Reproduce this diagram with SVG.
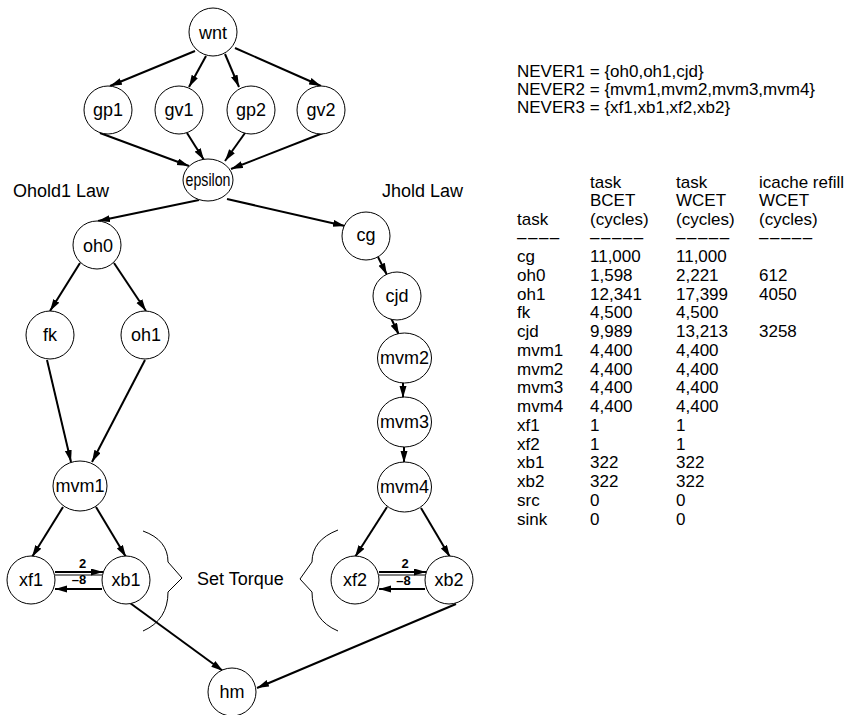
<svg xmlns="http://www.w3.org/2000/svg" width="849" height="715" viewBox="0 0 849 715">
<style>
.n{fill:#fff;stroke:#000;stroke-width:1}
.l{font-family:"Liberation Sans",Arial,sans-serif;font-size:18px;text-anchor:middle;fill:#000}
.t{font-family:"Liberation Sans",Arial,sans-serif;font-size:18px;fill:#000}
.r{font-family:"Liberation Sans",Arial,sans-serif;font-size:17px;fill:#000}
.d{font-family:"Liberation Sans",Arial,sans-serif;font-size:17px;letter-spacing:1.5px;fill:#000}
.e{stroke:#000;stroke-width:2;fill:none;marker-end:url(#ah)}
.w{font-family:"Liberation Sans",Arial,sans-serif;font-size:13px;font-weight:bold;text-anchor:middle;fill:#000}
.b{stroke:#000;stroke-width:1;fill:none}
</style>
<defs>
<marker id="ah" markerUnits="userSpaceOnUse" markerWidth="13" markerHeight="8" refX="12" refY="3.5" orient="auto">
<path d="M0,0 L12,3.5 L0,7 z" fill="#000"/>
</marker>
</defs>
<rect width="849" height="715" fill="#fff"/>
<g id="connectors">
<line class="e" x1="195" y1="51" x2="110" y2="86"/>
<line class="e" x1="206" y1="56" x2="189" y2="87"/>
<line class="e" x1="225" y1="54" x2="239" y2="87"/>
<line class="e" x1="235" y1="48" x2="321" y2="86"/>
<line class="e" x1="100" y1="133" x2="189" y2="166"/>
<line class="e" x1="187" y1="133" x2="204" y2="160"/>
<line class="e" x1="245" y1="133" x2="225" y2="161"/>
<line class="e" x1="323" y1="133" x2="231" y2="169"/>
<line class="e" x1="199" y1="200" x2="98" y2="221"/>
<line class="e" x1="227" y1="199" x2="345" y2="226"/>
<line class="e" x1="80" y1="263" x2="50" y2="311"/>
<line class="e" x1="114" y1="263" x2="146" y2="311"/>
<line class="e" x1="47" y1="360" x2="71" y2="462"/>
<line class="e" x1="145" y1="360" x2="92" y2="462"/>
<line class="e" x1="378" y1="257" x2="387" y2="275"/>
<line class="e" x1="391" y1="318" x2="399" y2="335"/>
<line class="e" x1="403" y1="383" x2="403" y2="398"/>
<line class="e" x1="404" y1="447" x2="404" y2="463"/>
<line class="e" x1="63" y1="507" x2="32" y2="557"/>
<line class="e" x1="96" y1="507" x2="126" y2="557"/>
<line class="e" x1="387" y1="507" x2="355" y2="557"/>
<line class="e" x1="421" y1="508" x2="450" y2="557"/>
<line class="e" x1="55" y1="572" x2="103" y2="572"/>
<line class="b" x1="55" y1="575" x2="102" y2="575"/>
<line class="e" x1="102" y1="589" x2="55" y2="589"/>
<line class="e" x1="379" y1="572" x2="426" y2="572"/>
<line class="b" x1="379" y1="575" x2="425" y2="575"/>
<line class="e" x1="425" y1="589" x2="379" y2="589"/>
<line class="e" x1="130" y1="603" x2="223" y2="671"/>
<line class="e" x1="456" y1="604" x2="257" y2="688"/>
<text class="w" x="82.5" y="568">2</text>
<text class="w" x="79" y="584">–8</text>
<text class="w" x="405" y="568">2</text>
<text class="w" x="403.5" y="585">–8</text>
</g>
<g id="wnt"><circle class="n" cx="213" cy="32" r="24"/><text class="l" x="213" y="39">wnt</text></g>
<g id="gp1"><circle class="n" cx="108" cy="110" r="24"/><text class="l" x="108" y="116">gp1</text></g>
<g id="gv1"><circle class="n" cx="179" cy="110" r="24"/><text class="l" x="179" y="116">gv1</text></g>
<g id="gp2"><circle class="n" cx="251" cy="110" r="24"/><text class="l" x="251" y="116">gp2</text></g>
<g id="gv2"><circle class="n" cx="321" cy="110" r="24"/><text class="l" x="321" y="116">gv2</text></g>
<g id="epsilon"><ellipse class="n" cx="208" cy="180" rx="25" ry="21"/><text class="l" x="208" y="186" textLength="45" lengthAdjust="spacingAndGlyphs">epsilon</text></g>
<g id="oh0"><circle class="n" cx="97" cy="245" r="24"/><text class="l" x="98" y="252">oh0</text></g>
<g id="fk"><circle class="n" cx="50" cy="335" r="24"/><text class="l" x="50" y="341">fk</text></g>
<g id="oh1"><circle class="n" cx="145" cy="335" r="24"/><text class="l" x="146" y="341">oh1</text></g>
<g id="mvm1"><ellipse class="n" cx="80" cy="486" rx="27" ry="25"/><text class="l" x="80" y="492">mvm1</text></g>
<g id="xf1"><circle class="n" cx="31" cy="580" r="24"/><text class="l" x="31" y="586">xf1</text></g>
<g id="xb1"><circle class="n" cx="126" cy="580" r="24"/><text class="l" x="126" y="586">xb1</text></g>
<g id="cg"><circle class="n" cx="366" cy="236" r="24"/><text class="l" x="366" y="241">cg</text></g>
<g id="cjd"><circle class="n" cx="397" cy="296" r="24"/><text class="l" x="397" y="302">cjd</text></g>
<g id="mvm2"><ellipse class="n" cx="404.5" cy="358" rx="27" ry="25"/><text class="l" x="404.5" y="364">mvm2</text></g>
<g id="mvm3"><ellipse class="n" cx="404.5" cy="422" rx="27" ry="25"/><text class="l" x="404.5" y="428">mvm3</text></g>
<g id="mvm4"><ellipse class="n" cx="404.5" cy="487" rx="27" ry="25"/><text class="l" x="404.5" y="493">mvm4</text></g>
<g id="xf2"><circle class="n" cx="355" cy="580" r="24"/><text class="l" x="355" y="586">xf2</text></g>
<g id="xb2"><circle class="n" cx="449" cy="580" r="24"/><text class="l" x="449" y="586">xb2</text></g>
<g id="hm"><circle class="n" cx="232" cy="692" r="24"/><text class="l" x="232" y="698">hm</text></g>
<g id="annotations">
<text class="t" x="13" y="197">Ohold1 Law</text>
<text class="t" x="382" y="197">Jhold Law</text>
<path class="b" d="M143,531 Q168,540 168,562 L182,578 L168,592 Q168,620 143,631"/>
<path class="b" d="M338,530 Q312,540 312,562 L300,579 L312,592 Q312,620 338,631"/>
<text class="t" x="197" y="585">Set Torque</text>
</g>
<g id="table">
<text class="r" x="517" y="77">NEVER1 = {oh0,oh1,cjd}</text>
<text class="r" x="517" y="95">NEVER2 = {mvm1,mvm2,mvm3,mvm4}</text>
<text class="r" x="517" y="113">NEVER3 = {xf1,xb1,xf2,xb2}</text>
<text class="r" x="590" y="188">task</text><text class="r" x="676" y="188">task</text><text class="r" x="759" y="188">icache refill</text>
<text class="r" x="590" y="206">BCET</text><text class="r" x="676" y="206">WCET</text><text class="r" x="759" y="206">WCET</text>
<text class="r" x="517" y="225">task</text><text class="r" x="590" y="225">(cycles)</text><text class="r" x="676" y="225">(cycles)</text><text class="r" x="759" y="225">(cycles)</text>
<text class="d" x="517" y="243">––––</text><text class="d" x="590" y="243">–––––</text><text class="d" x="676" y="243">–––––</text><text class="d" x="759" y="243">–––––</text>
<text class="r" x="517" y="262">cg</text><text class="r" x="590" y="262">11,000</text><text class="r" x="676" y="262">11,000</text>
<text class="r" x="517" y="281">oh0</text><text class="r" x="590" y="281">1,598</text><text class="r" x="676" y="281">2,221</text><text class="r" x="759" y="281">612</text>
<text class="r" x="517" y="300">oh1</text><text class="r" x="590" y="300">12,341</text><text class="r" x="676" y="300">17,399</text><text class="r" x="759" y="300">4050</text>
<text class="r" x="517" y="318">fk</text><text class="r" x="590" y="318">4,500</text><text class="r" x="676" y="318">4,500</text>
<text class="r" x="517" y="337">cjd</text><text class="r" x="590" y="337">9,989</text><text class="r" x="676" y="337">13,213</text><text class="r" x="759" y="337">3258</text>
<text class="r" x="517" y="356">mvm1</text><text class="r" x="590" y="356">4,400</text><text class="r" x="676" y="356">4,400</text>
<text class="r" x="517" y="375">mvm2</text><text class="r" x="590" y="375">4,400</text><text class="r" x="676" y="375">4,400</text>
<text class="r" x="517" y="393">mvm3</text><text class="r" x="590" y="393">4,400</text><text class="r" x="676" y="393">4,400</text>
<text class="r" x="517" y="412">mvm4</text><text class="r" x="590" y="412">4,400</text><text class="r" x="676" y="412">4,400</text>
<text class="r" x="517" y="431">xf1</text><text class="r" x="590" y="431">1</text><text class="r" x="676" y="431">1</text>
<text class="r" x="517" y="450">xf2</text><text class="r" x="590" y="450">1</text><text class="r" x="676" y="450">1</text>
<text class="r" x="517" y="468">xb1</text><text class="r" x="590" y="468">322</text><text class="r" x="676" y="468">322</text>
<text class="r" x="517" y="487">xb2</text><text class="r" x="590" y="487">322</text><text class="r" x="676" y="487">322</text>
<text class="r" x="517" y="506">src</text><text class="r" x="590" y="506">0</text><text class="r" x="676" y="506">0</text>
<text class="r" x="517" y="525">sink</text><text class="r" x="590" y="525">0</text><text class="r" x="676" y="525">0</text>
</g>
</svg>
